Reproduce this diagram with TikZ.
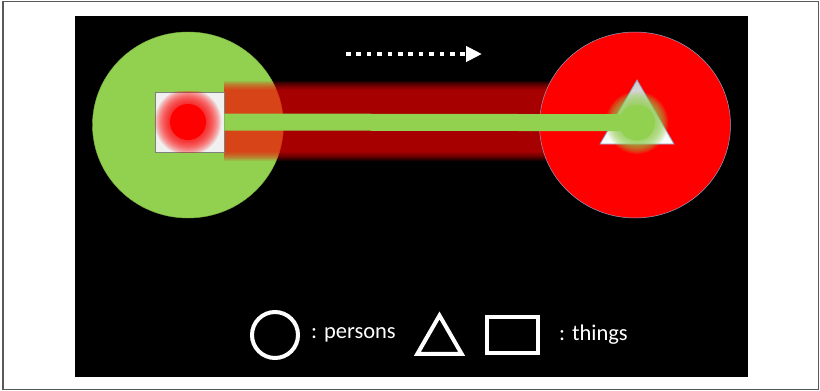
\documentclass[tikz,border=0pt]{standalone}
\usepackage{fontspec}
\setmainfont{Carlito}
\usetikzlibrary{shapes.geometric,arrows.meta}
\definecolor{ogreen}{HTML}{92D050}
\definecolor{tbord}{HTML}{8EA0C0}
\begin{document}
\begin{tikzpicture}[x=1pt,y=-1pt,
  persshape/.style={ellipse, inner sep=0, minimum width=191, minimum height=186},
  legline/.style={draw=white, line width=4, inner sep=0},
  legtext/.style={anchor=west, text=white, inner sep=0, font=\fontsize{22.5}{26}\selectfont}]
\useasboundingbox (0,0) rectangle (820,391);
\fill[white] (0,0) rectangle (820,391);
\draw[gray!70!black, line width=1.2] (3,1.5) rectangle (818.5,389.5);
\fill[black] (75,16) rectangle (748,377);
% persons
\node[persshape, fill=ogreen, draw=ogreen!85!black, line width=0.4] (pers1) at (188,125) {};
% red glow band
\foreach \k in {0,...,9} {\fill[red, fill opacity=0.102] (224,90-\k) rectangle (560,152+\k);}
\node[persshape, fill=red, draw=tbord, line width=0.5] (pers2) at (635,125) {};
% things
\node[rectangle, fill=gray!12, draw=gray, line width=0.8, minimum width=69, minimum height=60, inner sep=0] (thing1) at (189.5,122) {};
\node[circle, fill=red, minimum size=36, inner sep=0] (dot) at (188,122) {};
\begin{scope}
\clip (thing1.south west) rectangle (thing1.north east);
\foreach \k in {1,...,14} {\fill[red, fill opacity=0.1] (dot.center) circle ({18pt+\k*1.1pt});}
\end{scope}
\node[regular polygon, regular polygon sides=3, minimum size=85.4, inner sep=0, top color=gray!40, bottom color=white, draw=tbord, line width=0.8] (thing2) at (637,122.7) {};
\foreach \k in {1,...,12} {\fill[ogreen, fill opacity=0.12] (thing2.center) circle ({18pt+\k*1.1pt});}
\draw[ogreen, line width=17] (thing1.east) -- (thing2.center);
\node[circle, fill=ogreen, minimum size=36, inner sep=0] (endpt) at (thing2.center) {};
% dotted arrow
\coordinate (a1) at (346,54);
\coordinate (a2) at (482,54);
\draw[white, line width=4.5, dash pattern=on 4.5pt off 5.9pt, -{Triangle[length=16pt,width=15pt]}] (a1) -- (a2);
% legend
\node[circle, legline, minimum size=46] (lp) at (275,335) {};
\node[legtext] (lpt) at (311,335) {: persons};
\node[regular polygon, regular polygon sides=3, legline, minimum size=51] (lt) at (439.5,341) {};
\node[rectangle, legline, minimum width=51, minimum height=36] (lr) at (512.5,335) {};
\node[legtext] (lrt) at (559,335) {: things};
\end{tikzpicture}
\end{document}
